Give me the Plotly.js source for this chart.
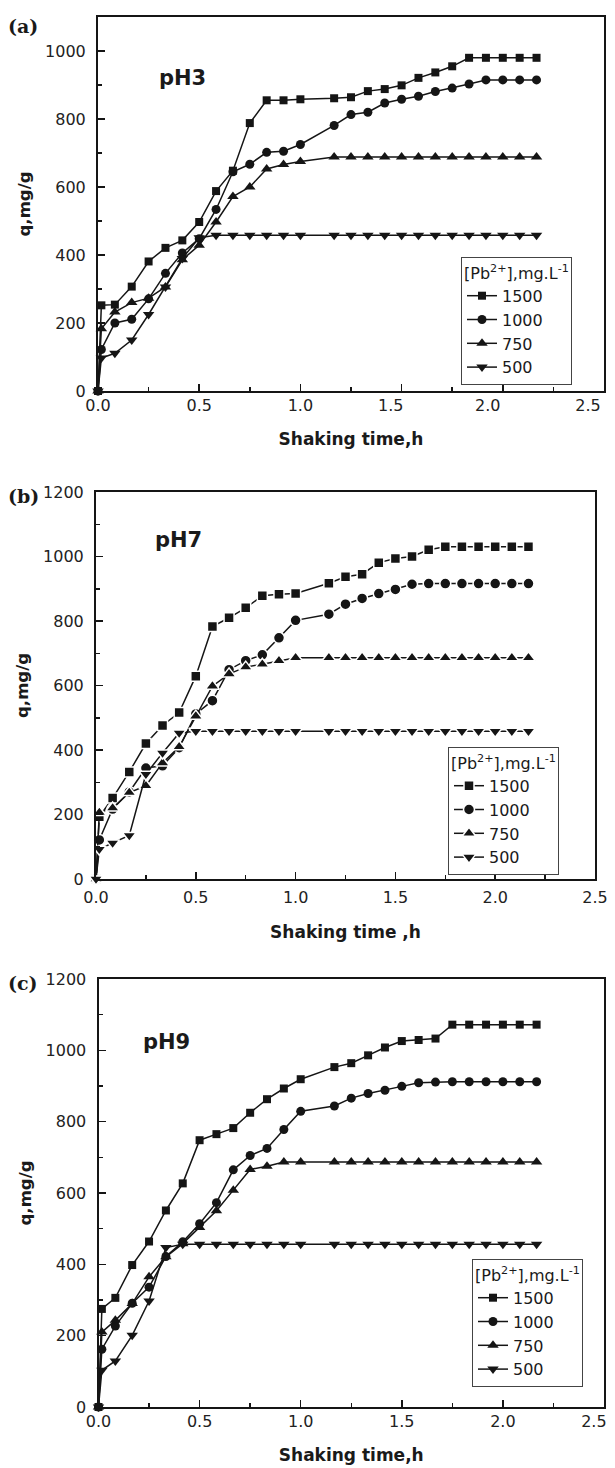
<!DOCTYPE html>
<html>
<head>
<meta charset="utf-8">
<script src="https://cdn.plot.ly/plotly-3.0.1.min.js"></script>
<style>
html,body{margin:0;padding:0;background:#fff;}
#chart{width:615px;height:1468px;}
</style>
</head>
<body>
<div id="chart"></div>
<script>
// Shaking time (minutes) of each sample
const timeMin = [0, 1, 5, 10, 15, 20, 25, 30, 35, 40, 45, 50, 55, 60, 70, 75, 80, 85, 90, 95, 100, 105, 110, 115, 120, 125, 130];
const seriesNames = ['1500', '1000', '750', '500'];
const xTickLabels = ['0.0', '0.5', '1.0', '1.5', '2.0', '2.5'];
const panelLabels = ['(a)', '(b)', '(c)'];
const phLabels = ['pH3', 'pH7', 'pH9'];

// (a) pH3, q in mg/g
const pH3_1500 = [0, 252, 254, 307, 381, 421, 443, 497, 588, 648, 788, 855, 855, 858, 861, 864, 882, 888, 899, 921, 937, 955, 980, 980, 980, 980, 980];
const pH3_1000 = [0, 122, 200, 211, 271, 346, 406, 448, 534, 645, 667, 702, 705, 725, 781, 813, 820, 847, 858, 867, 881, 891, 903, 915, 915, 915, 915];
const pH3_750  = [0, 183, 232, 260, 273, 306, 386, 429, 497, 572, 600, 653, 666, 675, 688, 688, 688, 688, 688, 688, 688, 688, 688, 688, 688, 688, 688];
const pH3_500  = [0, 97, 111, 150, 225, 306, 390, 451, 458, 458, 458, 458, 458, 458, 458, 458, 458, 458, 458, 458, 458, 458, 458, 458, 458, 458, 458];

// (b) pH7
const pH7_1500 = [0, 193, 251, 332, 420, 476, 516, 629, 783, 810, 841, 878, 883, 885, 917, 937, 945, 981, 994, 1000, 1021, 1030, 1030, 1030, 1030, 1030, 1030];
const pH7_1000 = [0, 121, 217, 270, 344, 351, 407, 512, 553, 649, 677, 695, 748, 802, 821, 852, 870, 885, 898, 914, 916, 916, 916, 916, 916, 916, 916];
const pH7_750  = [0, 206, 220, 268, 289, 360, 410, 505, 598, 636, 657, 666, 677, 686, 686, 686, 686, 686, 686, 686, 686, 686, 686, 686, 686, 686, 686];
const pH7_500  = [0, 92, 112, 135, 325, 391, 453, 458, 458, 458, 458, 458, 458, 458, 458, 458, 458, 458, 458, 458, 458, 458, 458, 458, 458, 458, 458];

// (c) pH9
const pH9_1500 = [0, 275, 306, 398, 464, 551, 627, 748, 765, 782, 825, 863, 893, 919, 953, 964, 986, 1008, 1026, 1029, 1033, 1072, 1072, 1072, 1072, 1072, 1072];
const pH9_1000 = [0, 162, 227, 291, 336, 422, 463, 514, 573, 665, 705, 725, 778, 829, 844, 866, 879, 888, 899, 909, 911, 912, 912, 912, 912, 912, 912];
const pH9_750  = [0, 210, 243, 290, 365, 421, 458, 503, 550, 608, 666, 675, 687, 687, 687, 687, 687, 687, 687, 687, 687, 687, 687, 687, 687, 687, 687];
const pH9_500  = [0, 103, 129, 201, 297, 447, 456, 456, 456, 456, 456, 456, 456, 456, 456, 456, 456, 456, 456, 456, 456, 456, 456, 456, 456, 456, 456];

const panels = [
  [pH3_1500, pH3_1000, pH3_750, pH3_500],
  [pH7_1500, pH7_1000, pH7_750, pH7_500],
  [pH9_1500, pH9_1000, pH9_750, pH9_500]
];

const timeH = timeMin.map(m => m / 60);
const symbols = ['square', 'circle', 'triangle-up', 'triangle-down'];
const sizes = [8, 9, 10, 10];
const ink = '#151515';
const sans = 'DejaVu Sans, sans-serif';

const W = 615, H = 1468;
// plot boxes in px: [left, right, top, bottom]
const boxes = [
  [98, 604, 17, 391],
  [96, 595, 492, 879],
  [98.5, 604, 979, 1407]
];
const yMax = [1100, 1200, 1200];
const legendPos = [[461, 257], [448, 747], [472, 1259]];
const phPos = [[157, 78], [153, 540], [141, 1042]];
const labelPos = [[6, 26], [6, 496], [6, 983]];
const xTitles = ['Shaking time,h', 'Shaking time ,h', 'Shaking time,h'];
const xTitleStandoff = [41, 20, 41];
// where the x tick labels sit (panels a and c print them a little left of the ticks)
const labelSpots = [
  [0, 0.5, 1.0, 1.446, 1.926, 2.421],
  null,
  [0, 0.5, 1.0, 1.5, 2.0, 2.45]
];

const traces = [];
panels.forEach((series, p) => {
  const sfx = p === 0 ? '' : String(p + 1);
  series.forEach((vals, s) => {
    const gap = p === 1;
    traces.push({
      x: timeH, y: vals,
      xaxis: 'x' + sfx, yaxis: 'y' + sfx,
      legend: 'legend' + sfx,
      name: seriesNames[s],
      mode: 'lines+markers',
      cliponaxis: false,
      line: {color: ink, width: 1.5},
      marker: {symbol: symbols[s], size: sizes[s] + (gap ? 2 : 0), color: ink,
               line: {color: gap ? '#ffffff' : ink, width: gap ? 1.5 : 0}}
    });
  });
});

const layout = {
  width: W, height: H,
  margin: {l: 0, r: 0, t: 0, b: 0},
  paper_bgcolor: '#ffffff', plot_bgcolor: '#ffffff',
  showlegend: true,
  font: {family: sans, color: '#222', size: 16},
  annotations: []
};

const tickFont = {family: sans, size: 16, color: '#222'};

boxes.forEach((b, p) => {
  const sfx = p === 0 ? '' : String(p + 1);
  const xd = [b[0] / W, b[1] / W];
  const yd = [1 - b[3] / H, 1 - b[2] / H];
  layout['xaxis' + sfx] = {
    domain: xd, anchor: 'y' + sfx, range: [0, 2.5],
    tickmode: 'array', tickvals: [0, 0.5, 1, 1.5, 2, 2.5], ticktext: xTickLabels,
    showticklabels: labelSpots[p] === null, ticklabeloverflow: 'allow',
    ticks: 'inside', ticklen: 7, tickwidth: 1.5, tickcolor: ink,
    minor: {tickmode: 'array', tickvals: [0.25, 0.75, 1.25, 1.75, 2.25], ticks: 'inside', ticklen: 4, tickwidth: 1.5, tickcolor: ink},
    showline: true, linewidth: 2, linecolor: ink, mirror: true,
    showgrid: false, zeroline: false,
    tickfont: tickFont, ticklabelstandoff: 3,
    title: {text: xTitles[p], font: {family: sans, size: 17, color: '#1a1a1a', weight: 'bold'}, standoff: xTitleStandoff[p]}
  };
  layout['yaxis' + sfx] = {
    domain: yd, anchor: 'x' + sfx, range: [0, yMax[p]],
    dtick: 200, tick0: 0,
    ticks: 'inside', ticklen: 7, tickwidth: 1.5, tickcolor: ink,
    minor: {dtick: 100, ticks: 'inside', ticklen: 4, tickwidth: 1.5, tickcolor: ink},
    showline: true, linewidth: 2, linecolor: ink, mirror: true,
    showgrid: false, zeroline: false,
    tickfont: tickFont, ticklabelstandoff: 7,
    title: {text: 'q,mg/g', font: {family: sans, size: 16.5, color: '#1a1a1a', weight: 'bold'}, standoff: 10}
  };
  layout['legend' + sfx] = {
    x: legendPos[p][0] / W, y: 1 - legendPos[p][1] / H,
    xanchor: 'left', yanchor: 'top',
    bgcolor: '#ffffff', bordercolor: '#444', borderwidth: 1,
    font: {family: sans, size: 16, color: '#1a1a1a'},
    itemwidth: 30, tracegroupgap: 0,
    title: {text: '[Pb<sup>2+</sup>],mg.L<sup>-1</sup>', font: {family: sans, size: 16, color: '#1a1a1a'}, side: 'top'}
  };
  layout.annotations.push({
    xref: 'paper', yref: 'paper', x: phPos[p][0] / W, y: 1 - phPos[p][1] / H,
    xanchor: 'left', yanchor: 'middle', showarrow: false,
    text: '<b>' + phLabels[p] + '</b>', font: {family: sans, size: 21, color: '#1a1a1a'}
  });
  layout.annotations.push({
    xref: 'paper', yref: 'paper', x: labelPos[p][0] / W, y: 1 - labelPos[p][1] / H,
    xanchor: 'left', yanchor: 'middle', showarrow: false,
    text: '<b>' + panelLabels[p] + '</b>', font: {family: 'DejaVu Serif, serif', size: 19, color: '#1a1a1a'}
  });

  if (labelSpots[p] !== null) {
    const lx = 'xaxis' + (4 + p);
    layout[lx] = {
      domain: xd, anchor: 'y' + sfx, overlaying: 'x' + sfx, range: [0, 2.5],
      tickmode: 'array', tickvals: labelSpots[p], ticktext: xTickLabels,
      ticks: '', showline: false, showgrid: false, zeroline: false, ticklabeloverflow: 'allow',
      tickfont: tickFont, ticklabelstandoff: 3, side: 'bottom'
    };
    traces.push({x: [0], y: [0], xaxis: 'x' + (4 + p), yaxis: 'y' + sfx, mode: 'markers',
                 marker: {opacity: 0}, showlegend: false, hoverinfo: 'skip'});
  }
});

Plotly.newPlot('chart', traces, layout, {staticPlot: true});
</script>
</body>
</html>
